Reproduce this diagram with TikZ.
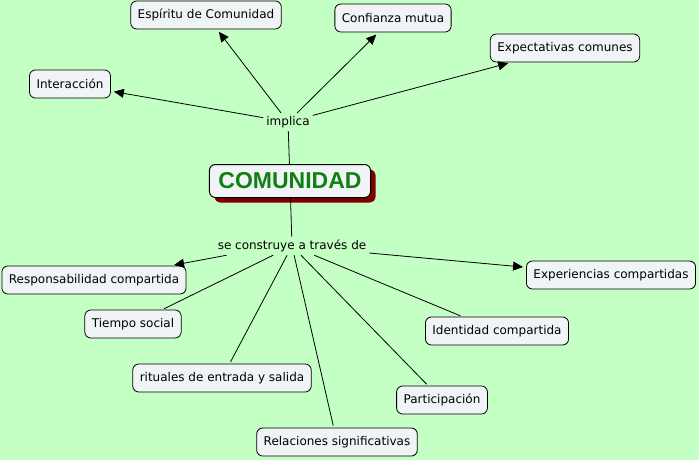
\documentclass[tikz,border=0pt]{standalone}
\usepackage{fontspec}
\setmainfont{DejaVu Sans}
\newfontfamily\titlefont{Liberation Sans}
\usetikzlibrary{arrows.meta,shadows}
\definecolor{bg}{RGB}{196,255,196}
\definecolor{boxfill}{RGB}{240,244,246}
\definecolor{shadowred}{RGB}{128,0,0}
\definecolor{titlegreen}{RGB}{16,128,16}
\begin{document}
\begin{tikzpicture}[x=1pt,y=-1pt,
  font=\fontsize{12}{14}\selectfont,
  concept/.style={draw, rounded corners=6pt, fill=boxfill, inner xsep=7pt, inner ysep=3pt, minimum height=28pt, line width=0.8pt},
  lbl/.style={inner sep=3pt},
  link/.style={line width=0.8pt},
  arr/.style={link, -{Triangle[length=10pt,width=9pt]}, shorten >=3pt}]
\fill[bg] (0,0) rectangle (699,460);
\useasboundingbox (0,0) rectangle (699,460);

\node[concept, minimum height=33pt, inner xsep=9pt, line width=1pt,
  general shadow={shadow xshift=5pt, shadow yshift=-5pt, fill=shadowred, opacity=1}]
  (com) at (290,181) {\titlefont\bfseries\fontsize{23}{26}\selectfont\color{titlegreen}COMUNIDAD};

\node[lbl] (imp) at (288,122) {implica};
\node[lbl] (sc) at (292,246) {se construye a través de};

\node[concept] (esp) at (206,15) {Espíritu de Comunidad};
\node[concept] (con) at (393,18) {Confianza mutua};
\node[concept] (exp) at (565,48) {Expectativas comunes};
\node[concept] (int) at (70,84) {Interacción};

\node[concept] (res) at (94,280) {Responsabilidad compartida};
\node[concept] (expc) at (611,275) {Experiencias compartidas};
\node[concept] (tie) at (133,324) {Tiempo social};
\node[concept] (ide) at (497,331) {Identidad compartida};
\node[concept] (rit) at (222,378) {rituales de entrada y salida};
\node[concept] (par) at (442,400) {Participación};
\node[concept] (rel) at (337,442) {Relaciones significativas};

\draw[link] (com) -- (imp);
\draw[arr] (imp) -- (int);
\draw[arr] (imp) -- (esp);
\draw[arr] (imp) -- (con);
\draw[arr] (imp) -- (exp);

\draw[link] (com) -- (sc);
\draw[arr] ([xshift=12pt]sc.south west) -- (res);
\draw[arr] (sc) -- (expc);
\draw[link, shorten >=2pt] (sc) -- (tie);
\draw[link, shorten >=2pt] (sc) -- (rit);
\draw[link, shorten >=2pt] (sc) -- (rel);
\draw[link, shorten >=2pt] (sc) -- (par);
\draw[link, shorten >=2pt] (sc) -- (ide);
\end{tikzpicture}
\end{document}
